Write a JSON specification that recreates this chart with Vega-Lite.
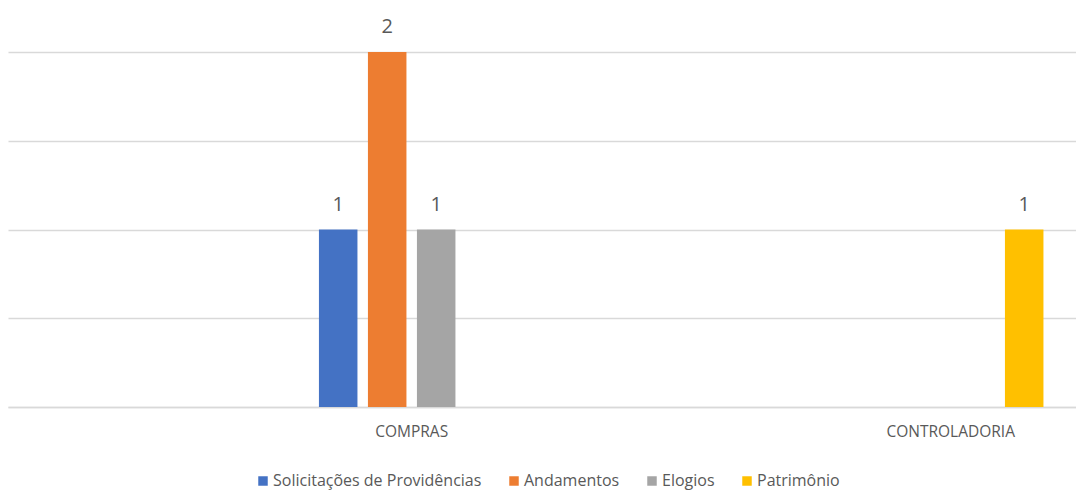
{
  "$schema": "https://vega.github.io/schema/vega-lite/v6.json",
  "width": 1068,
  "height": 355,
  "autosize": {"type": "none"},
  "padding": {"left": 8, "top": 52, "right": 0, "bottom": 83},
  "background": "white",
  "config": {"view": {"stroke": null}, "font": "Open Sans"},
  "data": {
    "values": [
      {"categoria": "COMPRAS", "serie": "Solicitações de Providências", "valor": 1},
      {"categoria": "COMPRAS", "serie": "Andamentos", "valor": 2},
      {"categoria": "COMPRAS", "serie": "Elogios", "valor": 1},
      {"categoria": "CONTROLADORIA", "serie": "Patrimônio", "valor": 1}
    ]
  },
  "encoding": {
    "x": {
      "field": "categoria",
      "type": "nominal",
      "sort": ["COMPRAS", "CONTROLADORIA"],
      "title": null,
      "scale": {"paddingInner": 0.6364, "paddingOuter": 0.3089, "align": 0.918},
      "axis": {
        "labelAngle": 0,
        "labelFontSize": 15.5,
        "labelColor": "#595959",
        "labelPadding": 17,
        "ticks": false,
        "domainColor": "#d9d9d9",
        "domainWidth": 1.5,
        "grid": false
      }
    },
    "xOffset": {
      "field": "serie",
      "type": "nominal",
      "scale": {
        "domain": ["Solicitações de Providências", "Andamentos", "Elogios", "Patrimônio"],
        "paddingInner": 0.214,
        "paddingOuter": 0.107
      }
    },
    "y": {
      "field": "valor",
      "type": "quantitative",
      "scale": {"domain": [0, 2], "nice": false},
      "axis": {
        "values": [0, 0.5, 1, 1.5, 2],
        "labels": false,
        "ticks": false,
        "domain": false,
        "title": null,
        "gridColor": "#d9d9d9",
        "gridWidth": 1.5
      }
    }
  },
  "layer": [
    {
      "mark": {"type": "bar"},
      "encoding": {
        "color": {
          "field": "serie",
          "type": "nominal",
          "scale": {
            "domain": ["Solicitações de Providências", "Andamentos", "Elogios", "Patrimônio"],
            "range": ["#4472C4", "#ED7D31", "#A5A5A5", "#FFC000"]
          },
          "legend": {
            "title": null,
            "orient": "none",
            "direction": "horizontal",
            "legendX": 247,
            "legendY": 421,
            "symbolType": "square",
            "symbolSize": 90,
            "symbolStrokeWidth": 0,
            "labelFontSize": 16,
            "labelColor": "#595959",
            "labelLimit": 400,
            "labelOffset": 2,
            "columnPadding": 24
          }
        }
      }
    },
    {
      "mark": {"type": "text", "dy": -25, "fontSize": 20, "color": "#595959"},
      "encoding": {"text": {"field": "valor", "type": "quantitative"}}
    }
  ]
}
